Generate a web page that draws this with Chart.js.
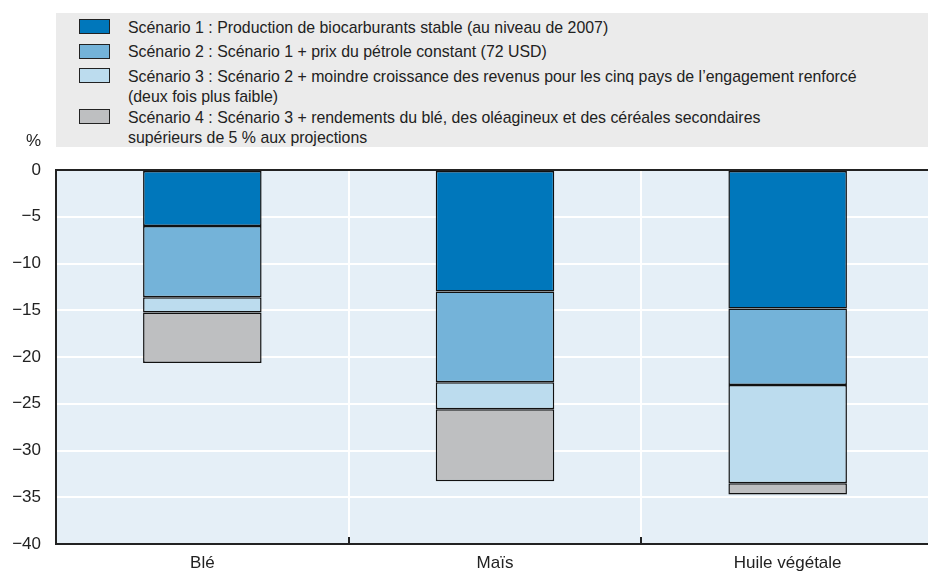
<!DOCTYPE html>
<html>
<head>
<meta charset="utf-8">
<script src="https://cdn.jsdelivr.net/npm/chart.js@4/dist/chart.umd.min.js"></script>
<style>
  html, body { margin: 0; padding: 0; background: #fff; overflow: hidden; }
  body { width: 928px; height: 573px; position: relative; font-family: "Liberation Sans", Arial, sans-serif; color: #222; }
  #wrap { position: absolute; left: 0; top: 0; width: 934px; height: 573px; }
  #legend { position: absolute; left: 56px; top: 13px; width: 872px; height: 134px; background: #ebebeb; }
  .sw { position: absolute; left: 23px; width: 29px; height: 13px; border: 1px solid #222; }
  .lt { position: absolute; left: 72px; font-size: 17px; line-height: 19.5px; white-space: nowrap; transform: scaleX(0.934); transform-origin: 0 0; }
  #pct { position: absolute; left: 26px; top: 131px; font-size: 17px; }
</style>
</head>
<body>
<div id="wrap"><canvas id="c" width="934" height="573"></canvas></div>
<div id="legend"></div>
<div id="pct">%</div>
<script>
const categories = ['Blé', 'Maïs', 'Huile végétale'];
const scenario1 = [-6.0, -13.0, -14.8];
const scenario2 = [-7.6, -9.7, -8.2];
const scenario3 = [-1.65, -2.9, -10.5];
const scenario4 = [-5.4, -7.7, -1.2];
const seriesLabels = [
  ['Scénario 1 : Production de biocarburants stable (au niveau de 2007)'],
  ['Scénario 2 : Scénario 1 + prix du pétrole constant (72 USD)'],
  ['Scénario 3 : Scénario 2 + moindre croissance des revenus pour les cinq pays de l’engagement renforcé', '(deux fois plus faible)'],
  ['Scénario 4 : Scénario 3 + rendements du blé, des oléagineux et des céréales secondaires', 'supérieurs de 5 % aux projections']
];
const yTicks = [0, -5, -10, -15, -20, -25, -30, -35, -40];

const colors = ['#0077bb', '#74b3d9', '#bcdcee', '#bebfc1'];
const seriesData = [scenario1, scenario2, scenario3, scenario4];

// HTML legend
const legend = document.getElementById('legend');
const swTops = [6, 31, 55, 96];
const txTops = [5, 29, 54, 95];
seriesLabels.forEach((lines, i) => {
  const sw = document.createElement('div');
  sw.className = 'sw';
  sw.style.top = swTops[i] + 'px';
  sw.style.background = colors[i];
  legend.appendChild(sw);
  const t = document.createElement('div');
  t.className = 'lt';
  t.style.top = txTops[i] + 'px';
  t.innerHTML = lines.join('<br>');
  legend.appendChild(t);
});

const FONT = "'Liberation Sans', Arial, sans-serif";

const bgPlugin = {
  id: 'bg',
  beforeDraw(chart) {
    const { ctx, chartArea: a } = chart;
    ctx.save();
    ctx.fillStyle = '#e5eff7';
    ctx.fillRect(a.left, a.top, a.right - a.left, a.bottom - a.top);
    ctx.restore();
  },
  afterDraw(chart) {
    const { ctx, chartArea: a, scales } = chart;
    const x = scales.x;
    ctx.save();
    ctx.strokeStyle = '#222';
    ctx.lineWidth = 2;
    for (let i = 0; i < categories.length - 1; i++) {
      const px = Math.round((x.getPixelForValue(i) + x.getPixelForValue(i + 1)) / 2);
      ctx.beginPath();
      ctx.moveTo(px, a.bottom);
      ctx.lineTo(px, a.bottom - 7);
      ctx.stroke();
    }
    ctx.restore();
  }
};

new Chart(document.getElementById('c'), {
  type: 'bar',
  data: {
    labels: categories,
    datasets: seriesData.map((d, i) => ({
      label: seriesLabels[i].join(' '),
      data: d,
      backgroundColor: colors[i],
      borderColor: '#111',
      borderWidth: 1.5,
      borderSkipped: false,
      barPercentage: 0.405,
      categoryPercentage: 1.0
    }))
  },
  options: {
    responsive: false,
    animation: false,
    layout: { padding: { top: 170, left: 0, right: 0, bottom: 0 } },
    plugins: { legend: { display: false }, tooltip: { enabled: false } },
    scales: {
      x: {
        stacked: true,
        grid: { offset: true, color: '#ffffff', lineWidth: 2, drawTicks: false },
        border: { display: true, color: '#222', width: 2 },
        ticks: { color: '#222', font: { family: FONT, size: 17 }, padding: 9 },
        afterFit(axis) { axis.height = 29; }
      },
      y: {
        stacked: true,
        min: -40,
        max: 0,
        afterBuildTicks(axis) { axis.ticks = yTicks.map(v => ({ value: v })); },
        grid: {
          color: ctx => (ctx.tick && ctx.tick.value === 0) ? '#222' : '#ffffff',
          lineWidth: 2,
          drawTicks: false
        },
        border: { display: true, color: '#222', width: 2 },
        ticks: {
          color: '#222',
          font: { family: FONT, size: 17 },
          padding: 15,
          callback: v => v < 0 ? '\u2212' + Math.abs(v) : String(v)
        },
        afterFit(axis) { axis.width = 56; }
      }
    }
  },
  plugins: [bgPlugin]
});
</script>
</body>
</html>
